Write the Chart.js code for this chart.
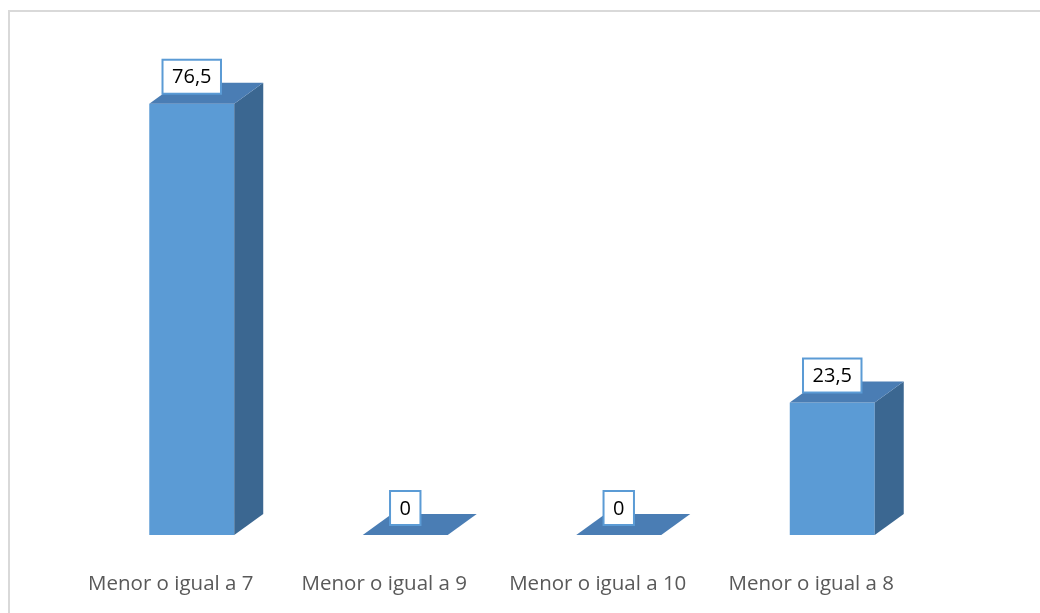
<!DOCTYPE html>
<html>
<head>
<meta charset="utf-8">
<script src="https://cdn.jsdelivr.net/npm/chart.js@4.4.1/dist/chart.umd.min.js"></script>
<style>
  html, body { margin: 0; padding: 0; background: #ffffff; }
  #wrap { width: 1040px; height: 613px; position: relative; }
</style>
</head>
<body>
<div id="wrap"><canvas id="c" width="1040" height="613"></canvas></div>
<script>
// Categories and values (percentages)
const categories = ['Menor o igual a 7', 'Menor o igual a 9', 'Menor o igual a 10', 'Menor o igual a 8'];
const values = [76.5, 0, 0, 23.5];

// Colours for the three visible faces of each column
const frontColor = '#5b9bd5';
const topColor = '#4a7db4';
const sideColor = '#3b6791';
const depthX = 29;
const depthY = -21;
const fontFamily = '"Open Sans", Lato, sans-serif';

function formatValue(v) {
  return String(v).replace('.', ',');
}

// Outer frame of the chart
const framePlugin = {
  id: 'frame',
  beforeDraw(chart) {
    const ctx = chart.ctx;
    ctx.save();
    ctx.strokeStyle = '#d9d9d9';
    ctx.lineWidth = 2;
    ctx.strokeRect(9, 11, 1200, 1200);
    ctx.restore();
  }
};

// Top and side faces that give the columns depth
const columnDepthPlugin = {
  id: 'columnDepth',
  afterDatasetsDraw(chart) {
    const ctx = chart.ctx;
    const meta = chart.getDatasetMeta(0);
    ctx.save();
    meta.data.forEach(bar => {
      const p = bar.getProps(['x', 'y', 'base', 'width'], true);
      const left = p.x - p.width / 2;
      const right = p.x + p.width / 2;
      const top = Math.min(p.y, p.base);
      const bottom = p.base;
      // side face
      if (bottom - top > 0.5) {
        ctx.fillStyle = sideColor;
        ctx.beginPath();
        ctx.moveTo(right, top);
        ctx.lineTo(right + depthX, top + depthY);
        ctx.lineTo(right + depthX, bottom + depthY);
        ctx.lineTo(right, bottom);
        ctx.closePath();
        ctx.fill();
      }
      // top face
      ctx.fillStyle = topColor;
      ctx.beginPath();
      ctx.moveTo(left, top);
      ctx.lineTo(right, top);
      ctx.lineTo(right + depthX, top + depthY);
      ctx.lineTo(left + depthX, top + depthY);
      ctx.closePath();
      ctx.fill();
    });
    ctx.restore();
  }
};

// Boxed value labels above each column
const valueLabelPlugin = {
  id: 'valueLabels',
  afterDatasetsDraw(chart) {
    const ctx = chart.ctx;
    const meta = chart.getDatasetMeta(0);
    const data = chart.data.datasets[0].data;
    ctx.save();
    ctx.font = '20px ' + fontFamily;
    ctx.textAlign = 'center';
    ctx.textBaseline = 'middle';
    meta.data.forEach((bar, i) => {
      const p = bar.getProps(['x', 'y'], true);
      const txt = formatValue(data[i]);
      const tw = ctx.measureText(txt).width;
      const w = tw + 19;
      const h = 34;
      const cx = p.x;
      const cy = p.y - 27;
      ctx.fillStyle = '#ffffff';
      ctx.fillRect(cx - w / 2, cy - h / 2, w, h);
      ctx.strokeStyle = '#5b9bd5';
      ctx.lineWidth = 2;
      ctx.strokeRect(cx - w / 2, cy - h / 2, w, h);
      ctx.fillStyle = '#000000';
      ctx.fillText(txt, cx, cy + 1);
    });
    ctx.restore();
  }
};

new Chart(document.getElementById('c'), {
  type: 'bar',
  data: {
    labels: categories,
    datasets: [{
      data: values,
      backgroundColor: frontColor,
      borderWidth: 0,
      categoryPercentage: 1,
      barPercentage: 0.398
    }]
  },
  options: {
    responsive: false,
    animation: false,
    devicePixelRatio: 1,
    layout: { padding: { left: 85, right: 101, top: 84, bottom: 0 } },
    plugins: { legend: { display: false }, tooltip: { enabled: false } },
    scales: {
      y: { display: false, min: 0, max: 80 },
      x: {
        grid: { display: false, drawTicks: false },
        border: { display: false },
        ticks: {
          color: '#595959',
          font: { family: fontFamily, size: 20.5 },
          padding: 37,
          labelOffset: -21,
          maxRotation: 0,
          autoSkip: false
        },
        afterFit(scale) { scale.height = 78; }
      }
    }
  },
  plugins: [framePlugin, columnDepthPlugin, valueLabelPlugin]
});
</script>
</body>
</html>
